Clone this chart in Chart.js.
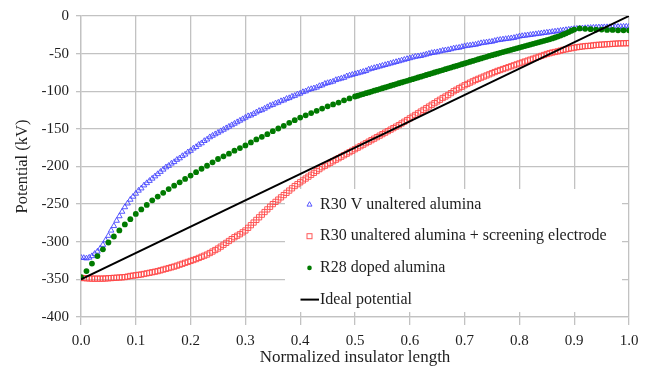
<!DOCTYPE html>
<html>
<head>
<meta charset="utf-8">
<title>Potential along insulator</title>
<script src="https://cdn.jsdelivr.net/npm/chart.js@4.4.1/dist/chart.umd.min.js"></script>
<style>
  html, body { margin: 0; padding: 0; background: #fff; }
  #wrap { width: 649px; height: 369px; }
</style>
</head>
<body>
<div id="wrap"><canvas id="potentialChart" width="649" height="369"></canvas></div>
<script>
// tick values
const xTickValues = [0, 0.1, 0.2, 0.3, 0.4, 0.5, 0.6, 0.7, 0.8, 0.9, 1.0];
const yTickValues = [0, -50, -100, -150, -200, -250, -300, -350, -400];

const seriesLabels = [
    'R30 V unaltered alumina',
    'R30 unaltered alumina + screening electrode',
    'R28 doped alumina',
    'Ideal potential'
];

// R30 V unaltered alumina, sampled every 0.005 from 0 to 1
const blueStep = 0.005;
const blueY = [
    -321, -321.5, -322, -321, -319, -316, -313, -309, -304, -298,
    -292, -285, -279, -272, -266, -260, -254, -249, -244, -240,
    -236, -232, -229, -225, -222, -219, -216, -213, -210, -207,
    -204, -201, -199, -196, -194, -191, -189, -186, -184, -181,
    -179, -176, -174, -171, -169, -166, -164, -161, -159, -157,
    -155, -153, -151, -149, -147, -145, -143, -141, -139, -137,
    -135, -133, -132, -130, -128, -126, -125, -123, -121, -119,
    -118, -116, -115, -113, -112, -110, -109, -107, -106, -104,
    -103, -101, -100, -98, -97, -96, -95, -93, -92, -90,
    -89, -88, -87, -85, -84, -83, -82, -80, -79, -78,
    -77, -76, -75, -74, -73, -71, -70, -69, -68, -67,
    -66, -65, -64, -63, -62, -61, -60, -59, -58, -57,
    -56, -55, -54, -53.5, -53, -52, -51, -50, -49, -48.5,
    -48, -47, -46, -45.5, -45, -44, -43, -42.5, -42, -41,
    -40, -39.5, -39, -38.5, -38, -37, -36, -35.5, -35, -34.5,
    -34, -33, -32, -31.5, -31, -30.5, -30, -29.5, -29, -28,
    -27, -26.5, -26, -25.5, -25, -24.5, -24, -23.5, -23, -22.5,
    -22, -21.5, -21, -20.5, -20, -19.5, -19, -18.5, -18, -17.5,
    -17, -16.8, -16.5, -16.3, -16, -15.8, -15.6, -15.4, -15.2, -15,
    -14.9, -14.8, -14.7, -14.6, -14.5, -14.4, -14.3, -14.2, -14.1, -14,
    -14
];

// R30 unaltered alumina + screening electrode, every 0.005
const redStep = 0.005;
const redY = [
    -348, -348.3, -348.5, -348.8, -349, -349, -349, -349, -349, -348.8,
    -348.5, -348.3, -348, -347.8, -347.5, -347.3, -347, -346.3, -345.5, -345,
    -344.5, -344, -343.5, -342.8, -342, -341.3, -340.5, -339.8, -339, -338,
    -337, -336, -335, -334, -333, -331.8, -330.5, -329.3, -328, -326.8,
    -325.5, -324.3, -323, -321.5, -320, -318.5, -317, -315, -313, -311,
    -309, -306.5, -304, -301.5, -299, -296.5, -294, -292, -290, -287.5,
    -285, -281.5, -278, -274.5, -271, -267.5, -264, -260.5, -257, -253.5,
    -250, -247, -244, -241, -238, -235, -232, -229, -226, -223.5,
    -221, -218.5, -216, -213.5, -211, -208.5, -206, -203.5, -201, -199,
    -197, -195, -193, -191, -189, -187, -185, -183, -181, -179,
    -177, -175, -173, -171, -169, -167, -165, -163, -161, -159,
    -157, -155, -153, -151, -149, -147, -145, -142.8, -140.5, -138.3,
    -136, -133.8, -131.5, -129.3, -127, -124.8, -122.5, -120.3, -118, -115.8,
    -113.5, -111.3, -109, -107, -105, -102.5, -100, -98, -96, -94,
    -92, -90.3, -88.5, -86.8, -85, -83.5, -82, -80.5, -79, -77.5,
    -76, -74.5, -73, -71.8, -70.5, -69.3, -68, -66.8, -65.5, -64.3,
    -63, -61.8, -60.5, -59.3, -58, -56.8, -55.5, -54.3, -53, -51.8,
    -50.5, -49.5, -48.5, -47.8, -47, -46, -45, -44.3, -43.5, -42.8,
    -42, -41.5, -41, -40.5, -40, -39.8, -39.5, -39, -38.5, -38.3,
    -38, -37.8, -37.5, -37.3, -37, -36.8, -36.5, -36.4, -36.3, -36.2,
    -36
];

// R28 doped alumina: coarse up to 0.5, dense to 0.9, coarse again to 1.0
const greenY1 = [ // 0 .. 0.5 step 0.01
    -347, -339, -329, -319, -310, -301, -293, -285, -277, -270,
    -263, -257, -251, -245, -240, -235, -230, -225.5, -221, -216.5,
    -212, -207.5, -203, -199, -194.5, -190, -186.5, -183, -179, -175.5,
    -172, -168, -164, -160.5, -157, -153, -149.5, -146, -142, -138.5,
    -135, -132, -129, -126, -123, -120, -117.5, -115, -112, -109.5,
    -107
];
const greenY2 = [ // 0.505 .. 0.9 step 0.005
    -106, -104.8, -103.7, -102.6, -101.5, -100.4, -99.3, -98.2, -97.1, -96,
    -94.9, -93.8, -92.7, -91.6, -90.5, -89.4, -88.3, -87.2, -86.1, -85,
    -83.9, -82.8, -81.7, -80.6, -79.5, -78.4, -77.3, -76.2, -75.1, -74,
    -72.9, -71.8, -70.7, -69.6, -68.5, -67.4, -66.3, -65.2, -64.1, -63,
    -61.9, -60.8, -59.7, -58.6, -57.5, -56.4, -55.3, -54.2, -53.1, -52,
    -51, -50, -49, -48, -47, -46, -45, -44, -43, -42,
    -41, -40, -39, -38, -37, -36, -35, -34, -33, -32,
    -31, -29.8, -28.6, -27.3, -26, -24.5, -23, -21.3, -19.6, -18
];
const greenY3 = [ // 0.91 .. 1.0 step 0.01
    -16.5, -17, -17.5, -18, -18, -18.5, -18.5, -19, -19, -19
];

// Ideal potential
const idealX = [0, 1];
const idealY = [-350, 0];

function toPoints(ys, start, step) {
    return ys.map((y, i) => ({ x: +(start + i * step).toFixed(4), y: y }));
}

const bluePts = toPoints(blueY, 0, blueStep);
const redPts = toPoints(redY, 0, redStep);
const greenPts = toPoints(greenY1, 0, 0.01)
    .concat(toPoints(greenY2, 0.505, 0.005))
    .concat(toPoints(greenY3, 0.91, 0.01));
const idealPts = idealX.map((x, i) => ({ x: x, y: idealY[i] }));

const serif = '"Liberation Serif", "Times New Roman", serif';
const textColor = '#1e1e1e';
const gridColor = '#c2c2c2';

// legend drawn inside the plot, on a white box
const insideLegend = {
    id: 'insideLegend',
    beforeDatasetsDraw(chart) {
        const ctx = chart.ctx;
        ctx.save();
        ctx.fillStyle = '#ffffff';
        ctx.fillRect(285, 189, 337, 123);
        ctx.restore();
    },
    afterDatasetsDraw(chart) {
        const ctx = chart.ctx;
        ctx.save();
        ctx.font = '16px ' + serif;
        ctx.textBaseline = 'middle';
        chart.data.datasets.forEach((ds, i) => {
            const y = 204.5 + i * 31.7;
            const mx = 309.5;
            ctx.lineWidth = 1;
            if (ds.pointStyle === 'triangle') {
                ctx.strokeStyle = ds.borderColor;
                ctx.beginPath();
                ctx.moveTo(mx, y - 2.8);
                ctx.lineTo(mx + 2.5, y + 1.6);
                ctx.lineTo(mx - 2.5, y + 1.6);
                ctx.closePath();
                ctx.stroke();
            } else if (ds.pointStyle === 'rect') {
                ctx.strokeStyle = ds.borderColor;
                ctx.strokeRect(mx - 2.5, y - 2.5, 5, 5);
            } else if (ds.pointStyle === 'circle') {
                ctx.fillStyle = ds.backgroundColor;
                ctx.beginPath();
                ctx.arc(mx, y, 2.3, 0, Math.PI * 2);
                ctx.fill();
            } else {
                ctx.strokeStyle = ds.borderColor;
                ctx.lineWidth = 2;
                ctx.beginPath();
                ctx.moveTo(300.5, y);
                ctx.lineTo(319, y);
                ctx.stroke();
            }
            ctx.fillStyle = textColor;
            ctx.fillText(ds.label, 320, y);
        });
        ctx.restore();
    }
};

Chart.defaults.font.family = serif;
Chart.defaults.color = textColor;

new Chart(document.getElementById('potentialChart'), {
    type: 'scatter',
    data: {
        datasets: [
            {
                label: seriesLabels[0],
                data: bluePts,
                showLine: false,
                pointStyle: 'triangle',
                pointRadius: 3.2,
                pointBorderWidth: 1,
                borderColor: 'rgba(70, 70, 255, 0.9)',
                backgroundColor: 'rgba(0, 0, 0, 0)',
                order: 3
            },
            {
                label: seriesLabels[1],
                data: redPts,
                showLine: false,
                pointStyle: 'rect',
                pointRadius: 3.7,
                pointBorderWidth: 1,
                borderColor: 'rgba(255, 70, 70, 0.9)',
                backgroundColor: 'rgba(0, 0, 0, 0)',
                order: 2
            },
            {
                label: seriesLabels[2],
                data: greenPts,
                showLine: false,
                pointStyle: 'circle',
                pointRadius: 2.9,
                pointBorderWidth: 0,
                borderColor: '#007a00',
                backgroundColor: '#007a00',
                order: 1
            },
            {
                label: seriesLabels[3],
                data: idealPts,
                showLine: true,
                pointRadius: 0,
                borderColor: '#000000',
                borderWidth: 2,
                order: 0
            }
        ]
    },
    options: {
        responsive: false,
        animation: false,
        layout: {
            padding: { left: 0, top: 14, right: 20, bottom: 0 }
        },
        plugins: {
            legend: { display: false },
            tooltip: { enabled: false }
        },
        scales: {
            x: {
                type: 'linear',
                min: 0,
                max: 1,
                afterBuildTicks: s => { s.ticks = xTickValues.map(v => ({ value: v })); },
                afterFit: s => { s.height = 52; },
                ticks: {
                    padding: 7,
                    font: { size: 15 },
                    color: textColor,
                    callback: v => v.toFixed(1)
                },
                grid: { color: gridColor, lineWidth: 1.3, tickLength: 8 },
                border: { color: gridColor, width: 1.3 },
                title: {
                    display: true,
                    text: 'Normalized insulator length',
                    font: { size: 17 },
                    color: textColor,
                    padding: { top: 0, bottom: 1 }
                }
            },
            y: {
                type: 'linear',
                min: -400,
                max: 0,
                afterBuildTicks: s => { s.ticks = yTickValues.map(v => ({ value: v })); },
                afterFit: s => { s.width = 81; },
                ticks: {
                    padding: 7,
                    font: { size: 15 },
                    color: textColor
                },
                grid: { color: gridColor, lineWidth: 1.3, tickLength: 5 },
                border: { color: gridColor, width: 1.3 },
                title: {
                    display: true,
                    text: 'Potential (kV)',
                    font: { size: 16.5 },
                    color: textColor,
                    padding: { top: 13, bottom: 0 }
                }
            }
        }
    },
    plugins: [insideLegend]
});
</script>
</body>
</html>
